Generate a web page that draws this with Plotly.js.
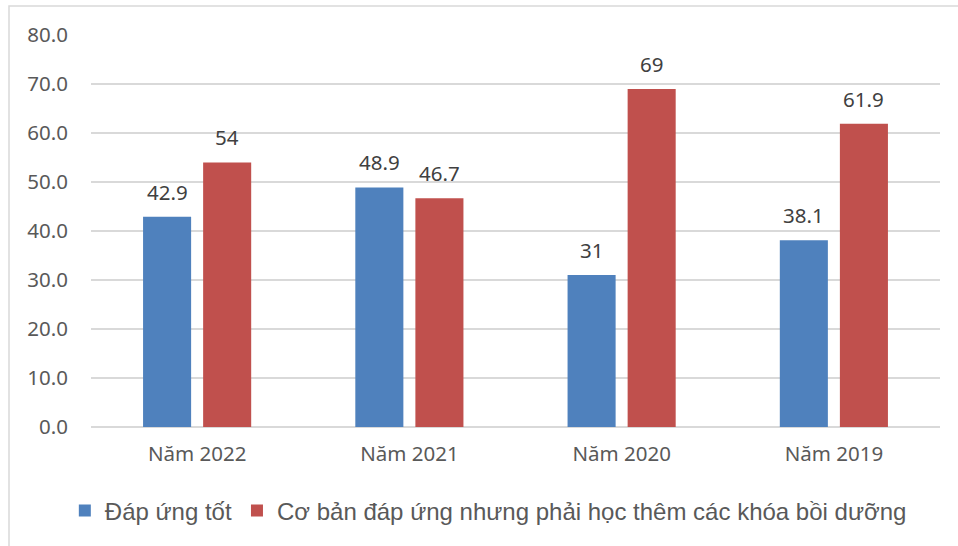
<!DOCTYPE html>
<html>
<head>
<meta charset="utf-8">
<script src="https://cdn.plot.ly/plotly-3.0.1.min.js"></script>
<style>html,body{margin:0;padding:0;background:#fff;}#chart{width:958px;height:546px;}</style>
</head>
<body>
<div id="chart"></div>
<script>
const categories = ["Năm 2022", "Năm 2021", "Năm 2020", "Năm 2019"];
const seriesNames = ["Đáp ứng tốt", "Cơ bản đáp ứng nhưng phải học thêm các khóa bồi dưỡng"];
const goodValues = [42.9, 48.9, 31, 38.1];
const basicValues = [54, 46.7, 69, 61.9];
const tickValues = [0, 10, 20, 30, 40, 50, 60, 70, 80];
const tickLabels = ["0.0", "10.0", "20.0", "30.0", "40.0", "50.0", "60.0", "70.0", "80.0"];

const colors = ["#4f81bd", "#c0504d"];
const axisFont = {family: "Noto Sans, Open Sans, sans-serif", size: 20.5, color: "#595959"};

const traces = [
  {type: "bar", name: seriesNames[0], x: categories, y: goodValues,
   marker: {color: colors[0], line: {width: 0}}, hoverinfo: "skip"},
  {type: "bar", name: seriesNames[1], x: categories, y: basicValues,
   marker: {color: colors[1], line: {width: 0}}, hoverinfo: "skip"}
];

const annotations = [];
[goodValues, basicValues].forEach((vals, si) => {
  vals.forEach((v, i) => {
    annotations.push({
      x: categories[i], y: v, xref: "x", yref: "y",
      text: String(v), showarrow: false,
      xanchor: "center", yanchor: "bottom",
      xshift: si === 0 ? -30 : 30, yshift: 9,
      font: {family: "Noto Sans, Open Sans, sans-serif", size: 20.5, color: "#404040"}
    });
  });
});

const layout = {
  width: 958, height: 546,
  margin: {l: 91, r: 18, t: 35, b: 119, pad: 0},
  paper_bgcolor: "#ffffff", plot_bgcolor: "#ffffff",
  barmode: "group", bargap: 0.434, bargroupgap: 0.2,
  showlegend: true,
  legend: {orientation: "h", x: 0.468, xanchor: "center", y: -0.214, yanchor: "middle",
           font: {family: "Liberation Sans, Arial, sans-serif", size: 24, color: "#595959"},
           itemclick: false, itemdoubleclick: false, traceorder: "normal"},
  xaxis: {type: "category", tickfont: axisFont, showgrid: false, zeroline: false,
          showline: false, ticks: "", ticklabelstandoff: 12, fixedrange: true},
  yaxis: {range: [0, 80], tickmode: "array", tickvals: tickValues, ticktext: tickLabels,
          tickfont: axisFont, showgrid: true, gridcolor: "#d9d9d9", gridwidth: 1.3,
          zeroline: true, zerolinecolor: "#d9d9d9", zerolinewidth: 1.5,
          showline: false, ticks: "", ticklabelstandoff: 22, fixedrange: true},
  annotations: annotations,
  shapes: [
    {type: "rect", xref: "paper", yref: "paper",
     x0: (9 - 91) / 849, x1: 1.2, y0: -0.6, y1: (427 - 6) / 392,
     line: {color: "#d9d9d9", width: 1.5}, fillcolor: "rgba(0,0,0,0)", layer: "below"}
  ]
};

Plotly.newPlot("chart", traces, layout, {displayModeBar: false, staticPlot: true});
</script>
</body>
</html>
